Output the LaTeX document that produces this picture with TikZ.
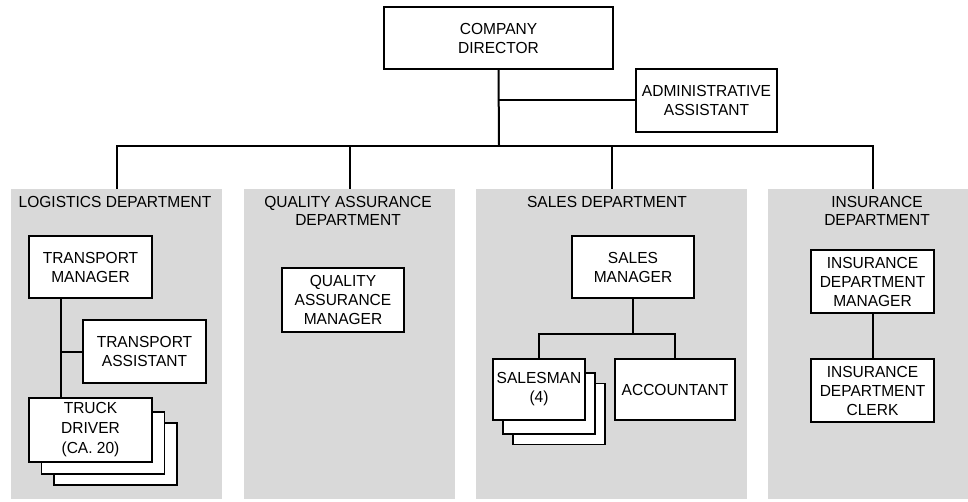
\documentclass[tikz,border=0pt]{standalone}
\usepackage{fontspec}
\setmainfont{Liberation Sans}[FakeStretch=0.97]
\usetikzlibrary{calc}
\definecolor{deptgray}{RGB}{217,217,217}
\begin{document}
\begin{tikzpicture}[x=1pt,y=-1pt,
  box/.style={draw, line width=1.1pt, fill=white, align=center, inner sep=0pt,
    font=\fontsize{16}{19}\selectfont},
  dept/.style={fill=deptgray, draw=none, inner sep=0pt, minimum height=310pt},
  title/.style={align=center, inner sep=0pt, font=\fontsize{16}{18.5}\selectfont},
  conn/.style={line width=2pt}]
\useasboundingbox (0,0) rectangle (968,502);
% departments
\node[dept, minimum width=211pt] (logd) at (116.5,344) {};
\node[dept, minimum width=211pt] (qad) at (349.5,344) {};
\node[dept, minimum width=271pt] (sald) at (611.5,344) {};
\node[dept, minimum width=210pt] (insd) at (873,344) {};
\node[title] (logt) at (115,202) {LOGISTICS DEPARTMENT};
\node[title] (qat) at (348,211) {QUALITY ASSURANCE\\DEPARTMENT};
\node[title] (salt) at (607,202) {SALES DEPARTMENT};
\node[title] (inst) at (877,211) {INSURANCE\\DEPARTMENT};
% top
\node[box, minimum width=229pt, minimum height=62pt] (dir) at (498.5,38) {COMPANY\\DIRECTOR};
\node[box, minimum width=141pt, minimum height=63pt] (adm) at (706.5,100.5) {ADMINISTRATIVE\\ASSISTANT};
\coordinate (bus) at (499,146);
\draw[conn] (dir.south) -- (bus);
\draw[conn] (adm.west) -- (adm.west -| dir.south);
\draw[conn] (logd.north) |- (bus) -| (insd.north);
\draw[conn] (qad.north) -- (qad.north |- bus);
\draw[conn] (sald.north) -- (sald.north |- bus);
% logistics
\node[box, minimum width=123pt, minimum height=62pt] (tm) at (90.5,267) {TRANSPORT\\MANAGER};
\node[box, minimum width=123pt, minimum height=63pt] (ta) at (144.5,351.5) {TRANSPORT\\ASSISTANT};
\node[box, minimum width=123pt, minimum height=62pt] (td3) at (115.5,454) {};
\node[box, minimum width=123pt, minimum height=62pt] (td2) at (103,443) {};
\node[box, minimum width=123pt, minimum height=64pt, font=\fontsize{16}{20}\selectfont] (td) at (90.5,430) {TRUCK\\DRIVER\\(CA. 20)};
\coordinate (ltrunk) at ([xshift=33pt]tm.south west);
\draw[conn] (ltrunk) -- ([xshift=33pt]td.north west);
\draw[conn] (ta.west) -- (ta.west -| ltrunk);
% quality assurance
\node[box, minimum width=122pt, minimum height=64pt] (qam) at (343,300) {QUALITY\\ASSURANCE\\MANAGER};
% sales
\node[box, minimum width=122pt, minimum height=62pt] (sm) at (633,267) {SALES\\MANAGER};
\node[box, minimum width=92pt, minimum height=61pt] (s3) at (559,414) {};
\node[box, minimum width=92pt, minimum height=61pt] (s2) at (549,403.5) {};
\node[box, minimum width=92pt, minimum height=61pt] (sf) at (539,389.5) {SALESMAN\\(4)};
\node[box, minimum width=120pt, minimum height=61pt] (acc) at (675,389.5) {ACCOUNTANT};
\coordinate (sj) at (633,334);
\draw[conn] (sm.south) -- (sj);
\draw[conn] (sf.north) |- (sj) -| (acc.north);
% insurance
\node[box, minimum width=123pt, minimum height=63pt] (idm) at (872.5,281.5) {INSURANCE\\DEPARTMENT\\MANAGER};
\node[box, minimum width=123pt, minimum height=63pt] (idc) at (872.5,390.5) {INSURANCE\\DEPARTMENT\\CLERK};
\draw[conn] (idm.south) -- (idc.north);
\end{tikzpicture}
\end{document}
